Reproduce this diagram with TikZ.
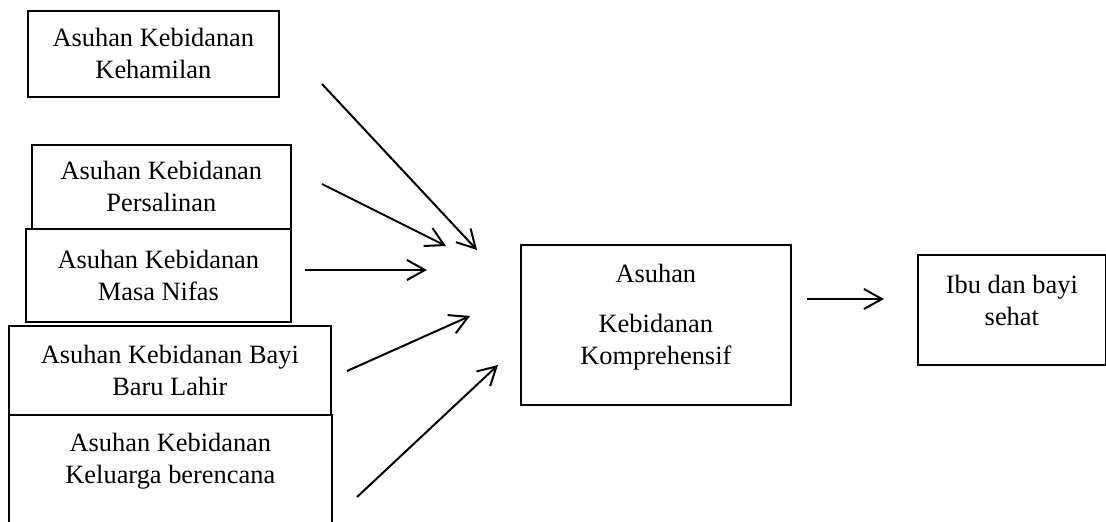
\documentclass[tikz,border=0pt]{standalone}
\usepackage{fontspec}
\setmainfont{Liberation Serif}
\usetikzlibrary{arrows.meta}
\tikzset{
    box/.style={rectangle, draw, line width=0.85pt, anchor=north west,
        inner sep=0pt, align=center, font=\fontsize{13.2}{16}\selectfont},
    arrow/.style={-{Straight Barb[length=9pt, width=10pt]}, line width=1pt}
}

\begin{document}
\begin{tikzpicture}[x=0.5pt, y=-0.5pt]

    \useasboundingbox (0,0) rectangle (1106,521);
    \clip (0,0) rectangle (1106,521);

    % left column
    \node[box, minimum width=125.5pt, minimum height=43pt] (kehamilan) at (27,10) {Asuhan Kebidanan\\Kehamilan};
    \node[box, minimum width=129.5pt, minimum height=42pt] (persalinan) at (31,144) {Asuhan Kebidanan\\Persalinan};
    \node[box, minimum width=132.5pt, minimum height=46.5pt] (nifas) at (25,228) {Asuhan Kebidanan\\Masa Nifas};
    \node[box, minimum width=161pt, minimum height=44.5pt] (bbl) at (8,325) {Asuhan Kebidanan Bayi\\Baru Lahir};
    \node[box, minimum width=161.5pt, minimum height=73pt, text depth=30pt] (kb) at (8,414) {Asuhan Kebidanan\\Keluarga berencana};

    % middle and right
    \node[box, minimum width=135pt, minimum height=80pt, text depth=11pt] (komprehensif) at (520,244) {Asuhan\\[9pt]Kebidanan\\Komprehensif};
    \node[box, minimum width=94pt, minimum height=55pt, text depth=10pt] (sehat) at (917,254) {Ibu dan bayi\\sehat};

    % free arrow ends
    \coordinate (k1s) at (322,84);   \coordinate (k1e) at (477,250);
    \coordinate (k2s) at (322,184);  \coordinate (k2e) at (446,246);
    \coordinate (k3s) at (305,270);  \coordinate (k3e) at (427,270);
    \coordinate (k4s) at (347,371);  \coordinate (k4e) at (470,316);
    \coordinate (k5s) at (357,497);  \coordinate (k5e) at (498,365);
    \coordinate (k6s) at (807,299);  \coordinate (k6e) at (884,299);

    \draw[arrow] (k1s) -- (k1e);
    \draw[arrow] (k2s) -- (k2e);
    \draw[arrow] (k3s) -- (k3e);
    \draw[arrow] (k4s) -- (k4e);
    \draw[arrow] (k5s) -- (k5e);
    \draw[arrow] (k6s) -- (k6e);

\end{tikzpicture}
\end{document}
